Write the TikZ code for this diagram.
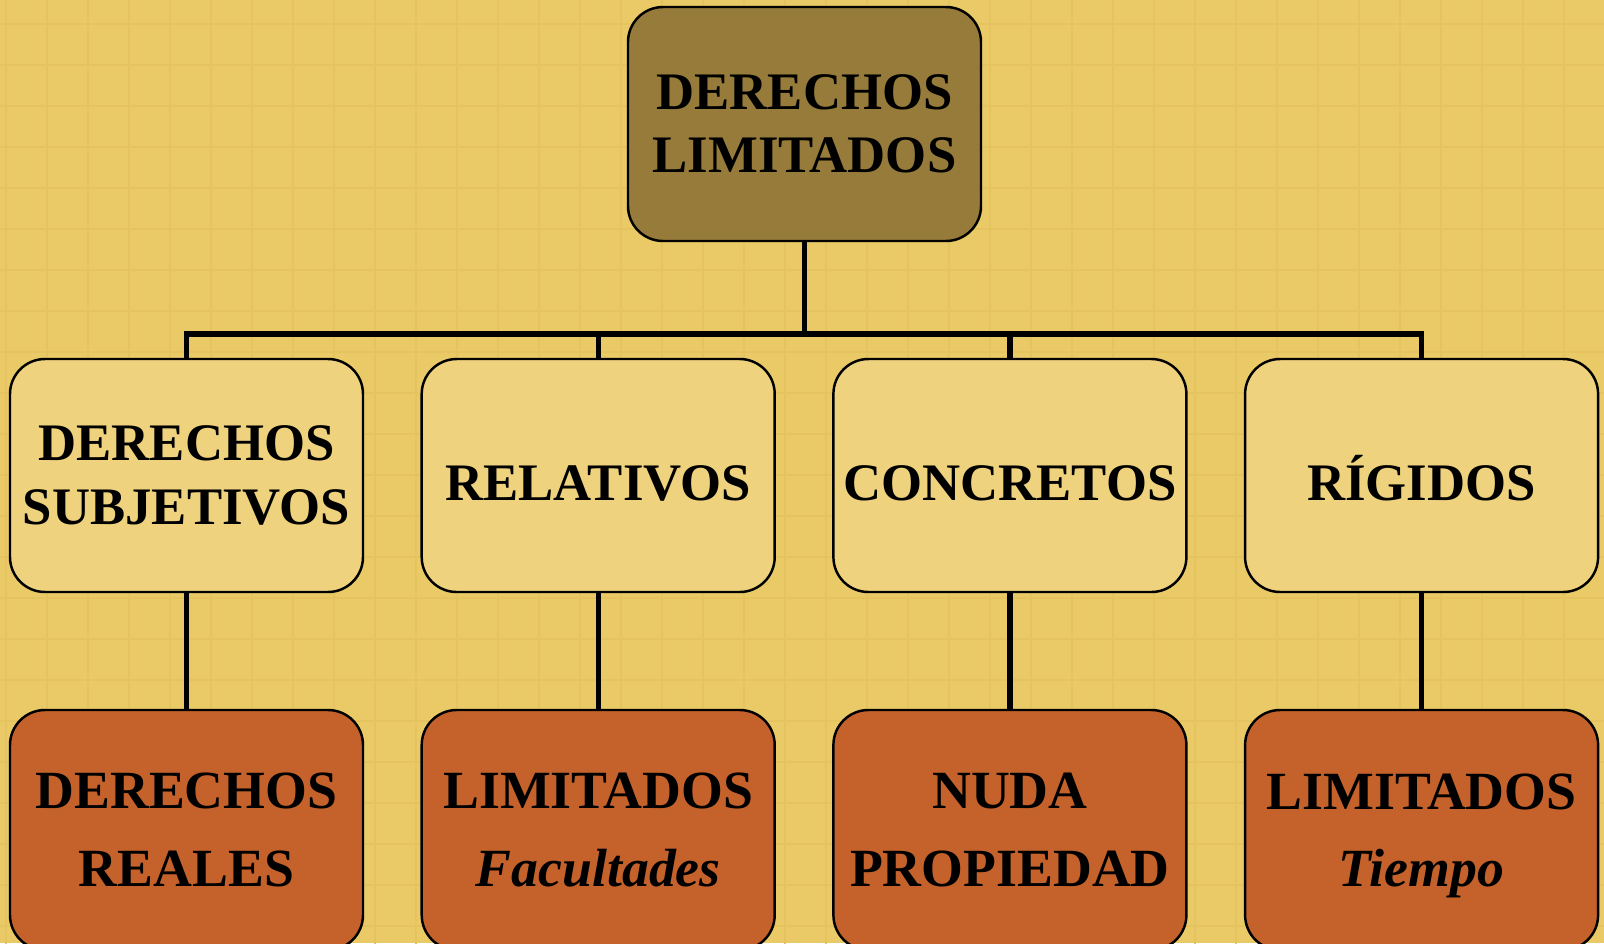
\documentclass[tikz,border=0pt]{standalone}
\usepackage{fontspec}
\setmainfont{Liberation Serif}

\definecolor{bgyellow}{HTML}{E9CA67}
\definecolor{gridyellow}{HTML}{E5C460}
\definecolor{olive}{HTML}{967B3A}
\definecolor{sand}{HTML}{EED27D}
\definecolor{rust}{HTML}{C5622C}

\tikzstyle{box} = [draw, rounded corners=0.35cm, line width=0.7pt, minimum width=3.53cm, inner sep=0pt, align=center, execute at begin node={\rule{0pt}{14.5pt}}]
\tikzstyle{root} = [box, fill=olive, minimum height=2.34cm, font=\bfseries\fontsize{15}{18}\selectfont]
\tikzstyle{mid} = [box, fill=sand, minimum height=2.33cm, font=\bfseries\fontsize{15}{18}\selectfont]
\tikzstyle{leaf} = [box, fill=rust, minimum height=2.40cm, font=\bfseries\fontsize{15.3}{22}\selectfont]
\tikzstyle{conn} = [line width=1.5pt]

\begin{document}
\begin{tikzpicture}[node distance=4.117cm]

\useasboundingbox (0,0) rectangle (16.04,-9.43);
\fill[bgyellow] (0,0) rectangle (16.04,-9.43);
\draw[gridyellow, line width=0.5pt, shift={(0.06,-0.24)}] (-0.41,0.41) grid[step=0.41] (16.4,-9.84);

\node[root] (root) at (8.045,-1.24) {DERECHOS\\LIMITADOS};

\node[mid] (m1) at (1.865,-4.755) {DERECHOS\\SUBJETIVOS};
\node[mid] (m2) [right of = m1] {RELATIVOS};
\node[mid] (m3) [right of = m2] {CONCRETOS};
\node[mid] (m4) [right of = m3] {RÍGIDOS};

\node[leaf] (b1) [below of = m1, node distance=3.545cm] {DERECHOS\\REALES};
\node[leaf] (b2) [below of = m2, node distance=3.545cm] {LIMITADOS\\{\itshape Facultades}};
\node[leaf] (b3) [below of = m3, node distance=3.545cm] {NUDA\\PROPIEDAD};
\node[leaf] (b4) [below of = m4, node distance=3.545cm] {LIMITADOS\\\smash{\itshape Tiempo}};

\coordinate (bar) at (8.045,-3.34);

  \draw[conn] (root) -- (bar);
  \draw[conn] (bar) -| (m1);
  \draw[conn] (bar) -| (m2);
  \draw[conn] (bar) -| (m3);
  \draw[conn] (bar) -| (m4);

  \draw[conn] (m1) -- (b1);
  \draw[conn] (m2) -- (b2);
  \draw[conn] (m3) -- (b3);
  \draw[conn] (m4) -- (b4);

\end{tikzpicture}
\end{document}
